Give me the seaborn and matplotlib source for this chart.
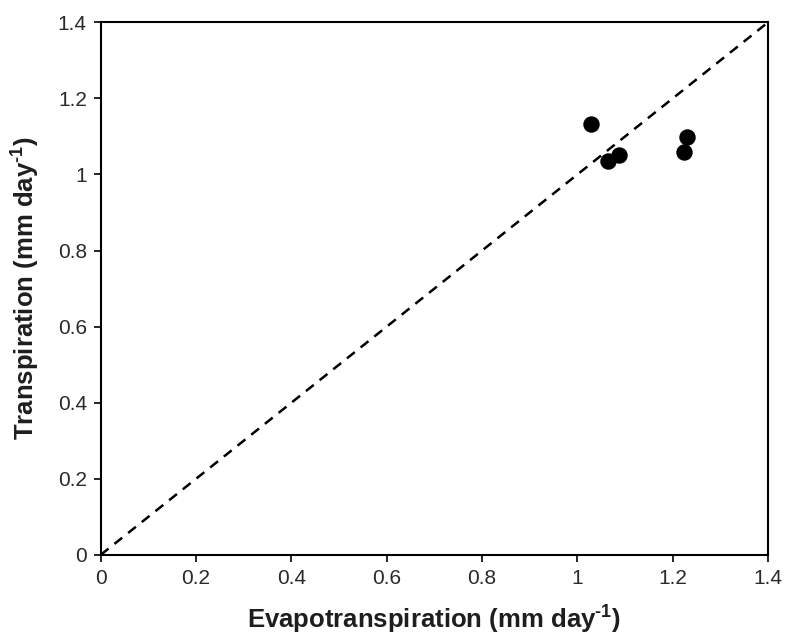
import matplotlib
matplotlib.use("Agg")
import matplotlib.pyplot as plt
import seaborn as sns
import pandas as pd

evapotranspiration = [1.028, 1.065, 1.087, 1.230, 1.224]
transpiration = [1.132, 1.035, 1.052, 1.099, 1.058]
ticks = [0, 0.2, 0.4, 0.6, 0.8, 1, 1.2, 1.4]
tick_labels = ["0", "0.2", "0.4", "0.6", "0.8", "1", "1.2", "1.4"]

sns.set_theme(style="white")
plt.rcParams['font.family'] = ['Liberation Sans', 'DejaVu Sans']
plt.rcParams['mathtext.fontset'] = 'custom'
plt.rcParams['mathtext.rm'] = 'Liberation Sans'
plt.rcParams['mathtext.bf'] = 'Liberation Sans:bold'

df = pd.DataFrame({"ET": evapotranspiration, "T": transpiration})

fig = plt.figure(figsize=(7.87, 6.37), dpi=100)
ax = fig.add_axes([0.128, 0.129, 0.848, 0.836])

ax.plot([0, 1.4], [0, 1.4], linestyle=(0, (4, 3)), color="black", linewidth=1.8, zorder=1)
sns.scatterplot(data=df, x="ET", y="T", ax=ax, color="black", s=140, edgecolor="black", linewidth=0, zorder=3)

ax.set_xlim(0, 1.4)
ax.set_ylim(0, 1.4)
ax.set_xticks(ticks)
ax.set_xticklabels(tick_labels)
ax.set_yticks(ticks)
ax.set_yticklabels(tick_labels)
ax.tick_params(axis="both", direction="out", length=5, width=1.2, color="black",
               labelsize=15, labelcolor="#2a2a2a", bottom=True, left=True, pad=5)
for s in ax.spines.values():
    s.set_color("black")
    s.set_linewidth(1.5)

sup = "$^{\\mathbf{\u2010" + "1}}$"
ax.set_xlabel("Evapotranspiration (mm day" + sup + ")", fontsize=18.5, fontweight="bold", labelpad=10, color="#1e1e1e")
ax.set_ylabel("Transpiration (mm day" + sup + ")", fontsize=18.5, fontweight="bold", labelpad=12, color="#1e1e1e")

fig.savefig("out.png", dpi=100)
